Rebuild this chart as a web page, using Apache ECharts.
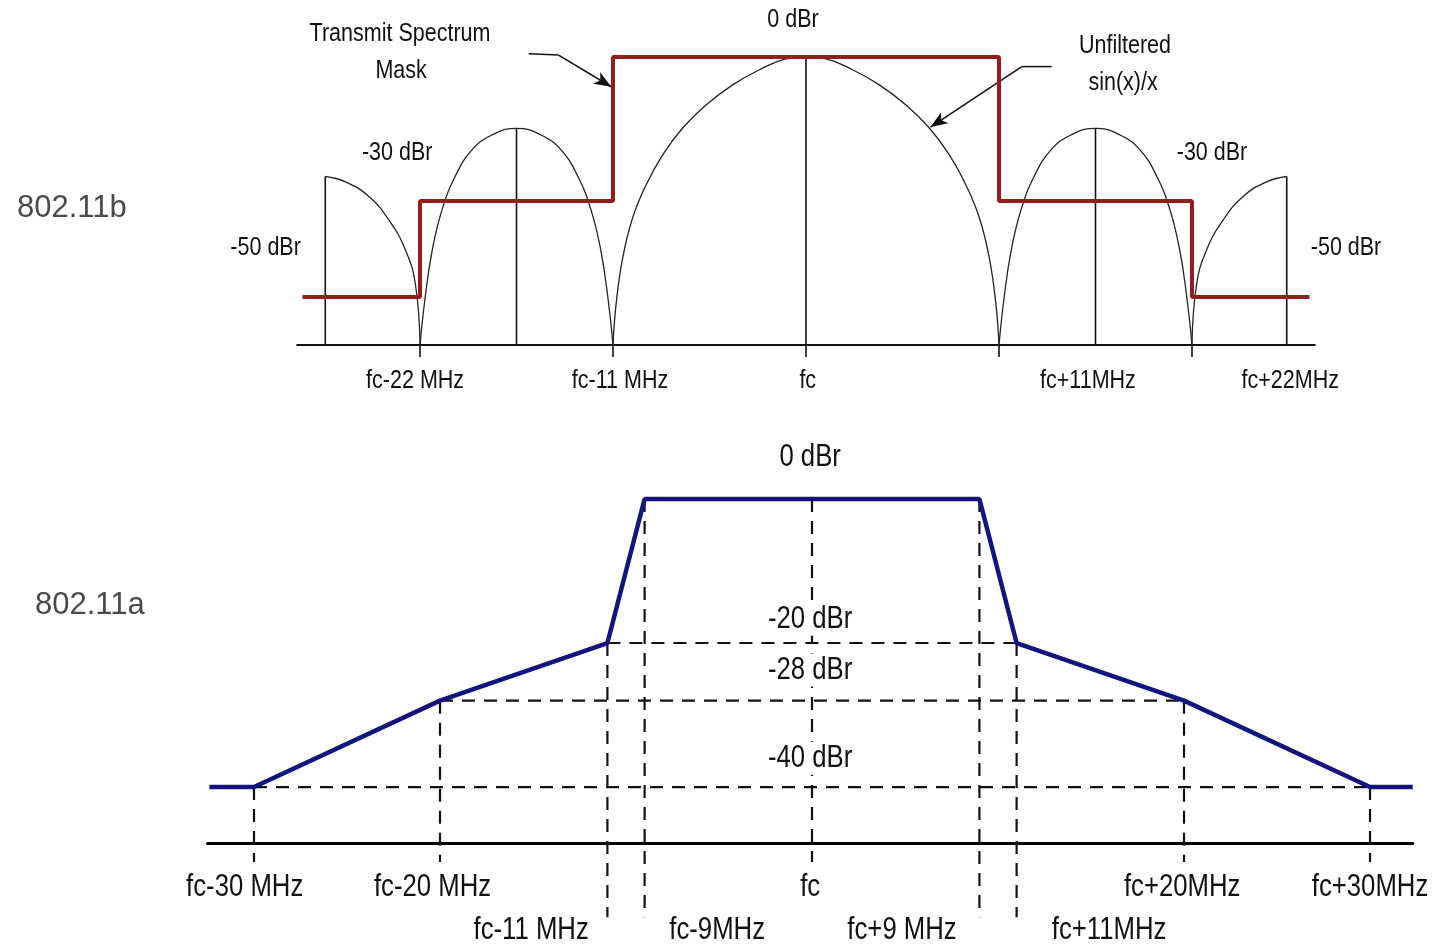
<!DOCTYPE html>
<html>
<head>
<meta charset="utf-8">
<title>802.11b / 802.11a transmit spectrum masks</title>
<script src="https://cdn.jsdelivr.net/npm/echarts@6.0.0/dist/echarts.min.js"></script>
<style>
  html, body { margin: 0; padding: 0; background: #fff; }
  #chart { width: 1437px; height: 950px; }
</style>
</head>
<body>
<div id="chart"></div>
<script>
// all x values are offsets from fc in MHz, all y values are levels in dBr

// ---------- 802.11b (top) ----------
const bMaskX = [-28.7, -22, -22, -11, -11, 11, 11, 22, 22, 28.7];
const bMaskY = [-50, -50, -30, -30, 0, 0, -30, -30, -50, -50];

// unfiltered sin(x)/x lobes
const bOuterLX = [-27.4, -26.26, -24.9, -23.77, -22.83, -22.26, -22];
const bOuterLY = [-24.9, -26, -29.1, -34, -40.2, -47.4, -60];
const bSideLX = [-22, -21.7, -21.3, -20.75, -20, -19.05, -17.9, -16.5, -15.1, -13.95, -13, -12.25, -11.7, -11.3, -11];
const bSideLY = [-60, -49.9, -40.2, -31.9, -24.9, -19.4, -16.25, -14.85, -16.25, -19.4, -24.9, -31.9, -40.2, -49.9, -60];
const bMainX = [-11, -10.83, -10.45, -9.88, -9.12, -8.17, -7.03, -5.7, -4.18, -2.68, -1.14, 0,
                1.14, 2.68, 4.18, 5.7, 7.03, 8.17, 9.12, 9.88, 10.45, 10.83, 11];
const bMainY = [-60, -51.7, -41.9, -33.5, -26.7, -20.4, -14.8, -10, -5.8, -2.7, -0.4, 0,
                -0.4, -2.7, -5.8, -10, -14.8, -20.4, -26.7, -33.5, -41.9, -51.7, -60];
const bSideRX = [11, 11.3, 11.7, 12.25, 13, 13.95, 15.1, 16.5, 17.9, 19.05, 20, 20.75, 21.3, 21.7, 22];
const bSideRY = [-60, -49.9, -40.2, -31.9, -24.9, -19.4, -16.25, -14.85, -16.25, -19.4, -24.9, -31.9, -40.2, -49.9, -60];
const bOuterRX = [22, 22.26, 22.83, 23.77, 24.9, 26.26, 27.4];
const bOuterRY = [-60, -47.4, -40.2, -34, -29.1, -26, -24.9];

// lobe peak markers
const bPeakX = [-27.4, -16.5, 0, 16.5, 27.4];
const bPeakY = [-24.9, -14.85, 0, -14.85, -24.9];
const bTickX = [-22, -11, 0, 11, 22];
const bFloor = -60;

// callout arrows (tail, bend, tip)
const bMaskArrowX = [-15.8, -14.1, -11.1];
const bMaskArrowY = [0.7, 0.4, -6.2];
const bSincArrowX = [14.0, 12.3, 7.1];
const bSincArrowY = [-2.0, -2.0, -14.6];

const bNotes = ['Transmit Spectrum', 'Mask', '0 dBr', 'Unfiltered', 'sin(x)/x', '-30 dBr', '-30 dBr', '-50 dBr', '-50 dBr'];
const bNoteX = [-23.14, -23.08, -0.74, 18.18, 18.07, -23.3, 23.14, -30.8, 30.78];
const bNoteY = [4.8, -2.9, 7.7, 2.3, -5.4, -20, -20, -39.8, -39.8];
const bFreqLabels = ['fc-22 MHz', 'fc-11 MHz', 'fc', 'fc+11MHz', 'fc+22MHz'];
const bFreqLabelX = [-22.28, -10.6, 0.1, 16.07, 27.6];
const bFreqLabelY = -67.5;

// ---------- 802.11a (bottom) ----------
const aMaskX = [-32.4, -30, -20, -11, -9, 9, 11, 20, 30, 32.3];
const aMaskY = [-40, -40, -28, -20, 0, 0, -20, -28, -40, -40];

const aVertX = [-30, -20, -11, -9, 0, 9, 11, 20, 30];
const aVertTop = [-40, -28, -20, 0, 0, 0, -20, -28, -40];
const aVertBottom = [-50.4, -50.4, -58.1, -58.1, -50.4, -58.1, -58.1, -50.4, -50.4];
const aHLevel = [-20, -28, -40];
const aHFrom = [-11, -20, -30];
const aHTo = [11, 20, 30];
const aFloor = -47.8;

const aNotes = ['0 dBr', '-20 dBr', '-28 dBr', '-40 dBr'];
const aNoteX = [-0.1, -0.1, -0.1, -0.1];
const aNoteY = [5.83, -16.7, -23.75, -36.0];
const aFreqLabels1 = ['fc-30 MHz', 'fc-20 MHz', 'fc', 'fc+20MHz', 'fc+30MHz'];
const aFreqLabel1X = [-30.5, -20.4, -0.1, 19.9, 30.0];
const aFreqLabel1Y = -53.9;
const aFreqLabels2 = ['fc-11 MHz', 'fc-9MHz', 'fc+9 MHz', 'fc+11MHz'];
const aFreqLabel2X = [-15.1, -5.1, 4.84, 15.97];
const aFreqLabel2Y = -59.9;

// ---------- helpers ----------
const FONT = "'Liberation Sans', Arial, sans-serif";
const INK = '#111';

function pts(xs, ys) {
  return xs.map((x, i) => [x, ys[i]]);
}

function plainLine(idx, data, style, extra) {
  return Object.assign({
    type: 'line',
    xAxisIndex: idx,
    yAxisIndex: idx,
    data: data,
    symbol: 'none',
    silent: true,
    clip: false,
    lineStyle: style
  }, extra || {});
}

function arrowSeries(xs, ys) {
  const p = pts(xs, ys);
  return plainLine(0, p.slice(0, 2), { color: '#111', width: 1.5 }, {
    z: 6,
    markLine: {
      silent: true,
      symbol: ['none', 'arrow'],
      symbolSize: [10, 17],
      label: { show: false },
      lineStyle: { color: '#111', width: 1.5, type: 'solid' },
      data: [[{ coord: p[1] }, { coord: p[2] }]]
    }
  });
}

const series = [];

// top: lobes
[[bOuterLX, bOuterLY], [bSideLX, bSideLY], [bMainX, bMainY], [bSideRX, bSideRY], [bOuterRX, bOuterRY]]
  .forEach(([xs, ys]) => {
    series.push(plainLine(0, pts(xs, ys), { color: '#222', width: 1.3 }, { smooth: 0.45, z: 2 }));
  });
// top: peak verticals
bPeakX.forEach((x, i) => {
  series.push(plainLine(0, [[x, bPeakY[i]], [x, bFloor]], { color: '#111', width: 1.6 }, { z: 3 }));
});
// top: mask
series.push(plainLine(0, pts(bMaskX, bMaskY), { color: '#951c1c', width: 4 }, { z: 5 }));
// top: callouts
series.push(arrowSeries(bMaskArrowX, bMaskArrowY));
series.push(arrowSeries(bSincArrowX, bSincArrowY));

// bottom: dashed guides
const dashStyle = { color: '#111', width: 2.2, type: [13, 9] };
aHLevel.forEach((y, i) => {
  series.push(plainLine(1, [[aHFrom[i], y], [aHTo[i], y]], dashStyle, { z: 1 }));
});
aVertX.forEach((x, i) => {
  series.push(plainLine(1, [[x, aVertTop[i]], [x, aVertBottom[i]]], dashStyle, { z: 1 }));
});
// bottom: mask
series.push(plainLine(1, pts(aMaskX, aMaskY), { color: '#14147f', width: 4.5 }, { z: 5 }));

const hiddenY = {
  type: 'value',
  axisLine: { show: false },
  axisTick: { show: false },
  axisLabel: { show: false },
  splitLine: { show: false }
};

const leftTitle = { fontFamily: FONT, fontSize: 31, fontWeight: 'normal', color: '#4a4a4a' };

const option = {
  animation: false,
  backgroundColor: '#fff',
  title: [
    { text: '802.11b', left: 12, top: 188, textStyle: leftTitle },
    { text: '802.11a', left: 30, top: 585, textStyle: leftTitle }
  ],
  grid: [
    { left: 297.2, top: 0, width: 1017.6, height: 345 },
    { left: 207.5, top: 441.4, width: 1205.3, height: 401.8 }
  ],
  xAxis: [
    {
      type: 'value', gridIndex: 0, min: -29, max: 29, position: 'bottom',
      axisLine: { show: true, onZero: false, lineStyle: { color: '#111', width: 2 } },
      axisTick: { show: true, customValues: bTickX, length: 12, inside: false, lineStyle: { color: '#111', width: 1.6 } },
      axisLabel: { show: false },
      splitLine: { show: false }
    },
    {
      type: 'value', gridIndex: 1, min: -32.5, max: 32.3, position: 'bottom',
      axisLine: { show: true, onZero: false, lineStyle: { color: '#000', width: 3 } },
      axisTick: { show: false },
      axisLabel: { show: false },
      splitLine: { show: false }
    }
  ],
  yAxis: [
    Object.assign({ gridIndex: 0, min: bFloor, max: 11.875 }, hiddenY),
    Object.assign({ gridIndex: 1, min: aFloor, max: 8 }, hiddenY)
  ],
  series: series
};

const chart = echarts.init(document.getElementById('chart'), null, { renderer: 'canvas' });
chart.setOption(option);

// annotations: anchored in data coordinates, drawn as narrow text
function notes(gridIndex, names, xs, ys, size, squeeze, bg) {
  return names.map((n, i) => {
    const p = chart.convertToPixel({ gridIndex: gridIndex }, [xs[i], Array.isArray(ys) ? ys[i] : ys]);
    const style = {
      text: n,
      font: size + 'px ' + FONT,
      fill: INK,
      align: 'center',
      verticalAlign: 'middle',
      textAlign: 'center',
      textVerticalAlign: 'middle'
    };
    if (bg) {
      style.backgroundColor = bg;
      style.padding = [1, 4];
    }
    return { type: 'text', x: p[0], y: p[1], scaleX: squeeze, z: 100, silent: true, style: style };
  });
}

chart.setOption({
  graphic: [].concat(
    notes(0, bNotes, bNoteX, bNoteY, 25, 0.86),
    notes(0, bFreqLabels, bFreqLabelX, bFreqLabelY, 25, 0.86),
    notes(1, aNotes, aNoteX, aNoteY, 31, 0.83, '#fff'),
    notes(1, aFreqLabels1, aFreqLabel1X, aFreqLabel1Y, 31, 0.83),
    notes(1, aFreqLabels2, aFreqLabel2X, aFreqLabel2Y, 31, 0.83)
  )
});
</script>
</body>
</html>
